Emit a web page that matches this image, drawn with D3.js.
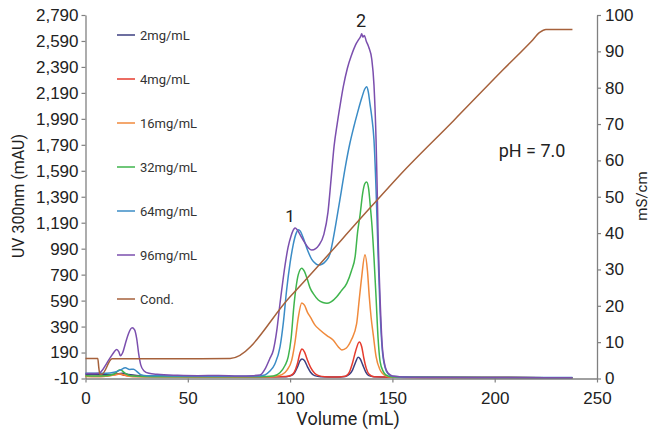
<!DOCTYPE html>
<html>
<head>
<meta charset="utf-8">
<script src="https://cdn.jsdelivr.net/npm/d3@7"></script>
<style>
  html, body { margin: 0; padding: 0; background: #fff; }
  svg { display: block; font-family: Roboto, "Liberation Sans", sans-serif; }
</style>
</head>
<body>
<svg id="chart" width="652" height="432"></svg>
<script>
// Chromatogram: UV 300 nm traces at several loads plus conductivity gradient
const seriesNames = ["2mg/mL", "4mg/mL", "16mg/mL", "32mg/mL", "64mg/mL", "96mg/mL"];
const seriesColors = ["#3d3f80", "#e63b2e", "#f08a3c", "#3fb54d", "#3b8cc6", "#7b4fae"];
const condName = "Cond.";
const condColor = "#a6613b";

const uvTicks = [-10, 190, 390, 590, 790, 990, 1190, 1390, 1590, 1790, 1990, 2190, 2390, 2590, 2790];
const condTicks = [0, 10, 20, 30, 40, 50, 60, 70, 80, 90, 100];
const volumeTicks = [0, 50, 100, 150, 200, 250];

// [volume (mL), absorbance (mAU)]
const uv2 = [[0,22],[5,20],[10,18],[15,24],[18,30],[21,20],[26,12],[35,8],[50,6],[70,4],[90,3],[98,4],[100.5,12],[102,30],[103.5,75],[104.8,125],[105.8,140],[107,128],[108.5,80],[110,38],[112,12],[115,4],[122,2],[127,6],[129,22],[130.5,55],[132,115],[133.2,153],[134.3,140],[135.5,95],[137,40],[138.5,12],[141,3],[150,0],[170,-2],[200,-3],[238,-4]];
const uv4 = [[0,8],[5,6],[10,8],[14,18],[16.5,25],[19,15],[23,6],[35,4],[60,2],[90,2],[98,5],[100.5,15],[102,38],[103.5,100],[104.8,185],[105.8,217],[107,195],[108.5,130],[110,75],[112,30],[114,12],[117,4],[123,2],[127,8],[129,40],[130.5,110],[132,200],[133.8,272],[135,235],[136,150],[137.2,70],[138.5,25],[141,4],[150,0],[200,-3],[238,-4]];
const uv16 = [[0,6],[5,5],[10,8],[14,16],[17,25],[20,12],[24,5],[40,3],[70,2],[88,3],[93,8],[96,20],[98.5,55],[100.8,132],[102.5,280],[104,460],[105.7,572],[107,555],[108.5,500],[110,460],[112,405],[114.6,364],[118,320],[121,286],[123.5,235],[125.3,210],[127.5,225],[130,290],[132.5,410],[133.8,600],[134.9,760],[136.6,944],[137.8,820],[138.7,620],[139.6,460],[140.7,320],[142,160],[144,55],[146,18],[148,4],[152,0],[200,-3],[238,-4]];
const uv32 = [[0,12],[5,10],[10,12],[14,25],[17,58],[19,35],[22,12],[28,6],[40,4],[70,3],[85,4],[91.8,10],[95,35],[97.5,90],[99.1,158],[100.5,300],[101.8,540],[102.8,680],[104,790],[105.7,840],[107,815],[108.3,760],[109.7,690],[111.5,640],[113.8,595],[116,575],[118,569],[120,580],[122.8,620],[125,665],[127.7,723],[130,820],[131.8,930],[133,1120],[134.2,1250],[135.5,1420],[136.5,1490],[137.4,1504],[138.3,1460],[139.3,1300],[140,1170],[141,920],[142,620],[143,300],[144,120],[145.5,45],[147,15],[150,2],[200,-3],[238,-4]];
const uv64 = [[0,30],[5,30],[10,30],[14,38],[17,55],[19.5,72],[21.5,60],[23.5,62],[25,45],[27,20],[30,12],[40,10],[60,8],[80,8],[85,10],[87.7,17],[90,45],[92.5,100],[95.1,235],[96.7,420],[98.3,672],[100,880],[101.5,1020],[103,1110],[104,1136],[105,1125],[106.5,1070],[108.5,980],[110.5,910],[112.5,875],[113.8,864],[115.5,870],[117.5,895],[119.5,950],[121,1060],[123,1240],[125,1430],[127,1620],[129.2,1800],[131,1920],[133,2040],[135,2150],[136.5,2220],[137.4,2238],[138.2,2200],[139,2110],[139.9,2007],[141,1827],[142,1450],[143,950],[144,500],[145,220],[146.5,70],[148,25],[150,8],[160,0],[200,-2],[238,-3]];
const uv96 = [[0,28],[3,28],[6.5,30],[8.5,60],[10.5,110],[12.5,160],[14,195],[15.3,213],[16.3,195],[17.1,165],[18.2,190],[19.5,260],[21,335],[22.8,380],[24,365],[25,300],[26,180],[27,95],[28.5,50],[31,30],[35,22],[45,15],[55,12],[65,14],[75,10],[82,12],[85.3,17],[88,70],[90,140],[91.8,208],[93.5,360],[95,560],[95.9,672],[97.5,860],[99,1000],[100.5,1090],[101.8,1140],[102.5,1149],[103.5,1135],[105,1095],[107,1040],[109,995],[110.6,979],[112.5,990],[114,1015],[116.5,1100],[118.5,1270],[120,1520],[121.5,1780],[123,1950],[124.5,2100],[126,2238],[128,2380],[130,2480],[132,2560],[133.5,2600],[134.5,2625],[135,2645],[135.6,2620],[136.3,2632],[137.2,2590],[138.5,2540],[139.9,2451],[141,2250],[142,1835],[142.5,1500],[143,1100],[144,600],[145,250],[146.5,80],[148,30],[150,10],[160,0],[200,-3],[238,-4]];
const uvSeries = [uv2, uv4, uv16, uv32, uv64, uv96];

// [volume (mL), conductivity (mS/cm)]
const cond = [[0,5.5],[6,5.5],[6.5,3],[7,1.2],[8,1.2],[13,5.4],[70.7,5.5],[100,22.5],[140,47.5],[153.7,56],[180,71],[204.2,85],[218,92.8],[222,95.2],[225,96],[238,96]];

const svg = d3.select("#chart");

const x = d3.scaleLinear().domain([0, 250]).range([85.5, 597]);
const yUV = d3.scaleLinear().domain([-10, 2790]).range([378.5, 15]);
const yCond = d3.scaleLinear().domain([0, 100]).range([378.5, 15]);

const axisColor = "#808080";
const textColor = "#222";
const commaFormat = d3.format(",");
const uvFormat = d => commaFormat(d).replace("\u2212", "-");

function styleAxis(g) {
  g.select(".domain").attr("stroke", axisColor).attr("stroke-width", 1.3);
  g.selectAll(".tick line").attr("stroke", axisColor).attr("stroke-width", 1.2);
  g.selectAll(".tick text").attr("fill", textColor).attr("font-size", 17);
}

svg.append("g")
  .attr("transform", "translate(85.5,0)")
  .call(d3.axisLeft(yUV).tickValues(uvTicks).tickFormat(uvFormat).tickSize(4).tickSizeOuter(0).tickPadding(3))
  .call(styleAxis);

svg.append("g")
  .attr("transform", "translate(597,0)")
  .call(d3.axisRight(yCond).tickValues(condTicks).tickSize(4).tickSizeOuter(0).tickPadding(4))
  .call(styleAxis);

svg.append("g")
  .attr("transform", "translate(0,378.5)")
  .call(d3.axisBottom(x).tickValues(volumeTicks).tickSize(4).tickSizeOuter(0).tickPadding(9))
  .call(styleAxis);

// Traces
const uvLine = d3.line().x(d => x(d[0])).y(d => yUV(d[1])).curve(d3.curveMonotoneX);
const condLine = d3.line().x(d => x(d[0])).y(d => yCond(d[1])).curve(d3.curveMonotoneX);

uvSeries.forEach((s, i) => {
  svg.append("path")
    .datum(s)
    .attr("fill", "none")
    .attr("stroke", seriesColors[i])
    .attr("stroke-width", 1.5)
    .attr("stroke-linejoin", "round")
    .attr("d", uvLine);
});

svg.append("path")
  .datum(cond)
  .attr("fill", "none")
  .attr("stroke", condColor)
  .attr("stroke-width", 1.5)
  .attr("d", condLine);

// Legend
const legendNames = seriesNames.concat([condName]);
const legendColors = seriesColors.concat([condColor]);
const legend = svg.append("g");
legendNames.forEach((name, i) => {
  const cy = 35 + i * 44;
  legend.append("line")
    .attr("x1", 117).attr("x2", 135).attr("y1", cy).attr("y2", cy)
    .attr("stroke", legendColors[i]).attr("stroke-width", 1.5);
  legend.append("text")
    .attr("x", 140).attr("y", cy).attr("dy", "0.35em")
    .attr("font-size", 13).attr("fill", "#333")
    .text(name);
});

// Axis titles
svg.append("text")
  .attr("transform", "translate(24,196) rotate(-90)")
  .attr("text-anchor", "middle")
  .attr("font-size", 16).attr("fill", textColor)
  .text("UV 300nm (mAU)");

svg.append("text")
  .attr("transform", "translate(647,196) rotate(-90)")
  .attr("text-anchor", "middle")
  .attr("font-size", 15).attr("fill", textColor)
  .text("mS/cm");

svg.append("text")
  .attr("x", 348).attr("y", 425)
  .attr("text-anchor", "middle")
  .attr("font-size", 18).attr("fill", textColor)
  .text("Volume (mL)");

// Peak labels and condition
svg.append("text").attr("x", 290).attr("y", 222).attr("text-anchor", "middle")
  .attr("font-size", 17).attr("fill", textColor).text("1");
svg.append("text").attr("x", 361).attr("y", 27).attr("text-anchor", "middle")
  .attr("font-size", 18).attr("fill", textColor).text("2");
svg.append("text").attr("x", 532).attr("y", 157).attr("text-anchor", "middle")
  .attr("font-size", 18).attr("fill", textColor).text("pH = 7.0");
</script>
</body>
</html>
